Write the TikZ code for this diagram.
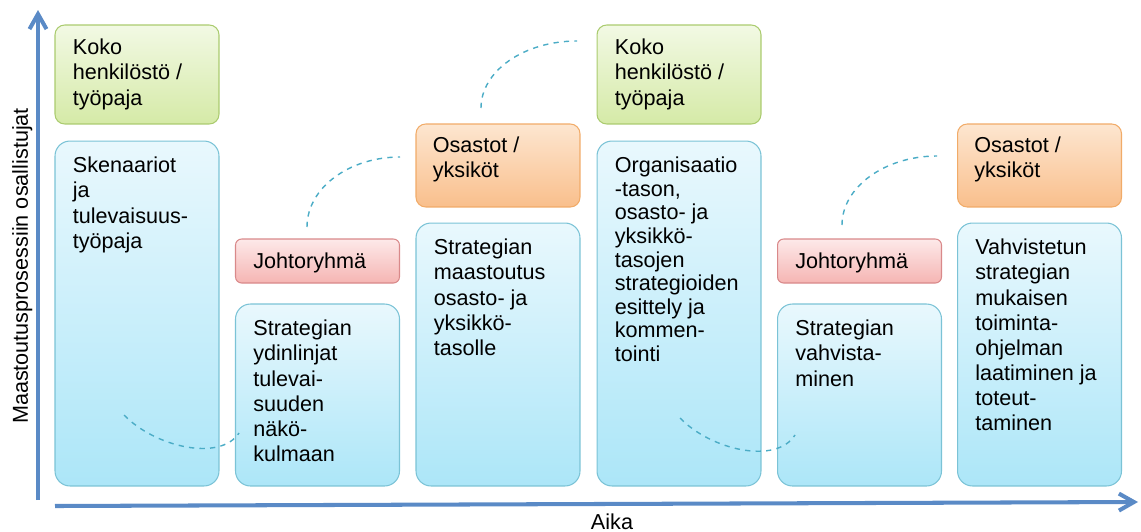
\documentclass[tikz,border=0pt]{standalone}
\usepackage{fontspec}
\setmainfont{Liberation Sans}
\usetikzlibrary{arrows.meta}
\definecolor{mstAxis}{HTML}{5A8AC6}
\definecolor{mstCurve}{HTML}{4BACC6}
\definecolor{mstGreenTop}{HTML}{F2F9E4}
\definecolor{mstGreenBot}{HTML}{D5EAA7}
\definecolor{mstGreenLine}{HTML}{AACB6E}
\definecolor{mstRedTop}{HTML}{FDE9E9}
\definecolor{mstRedBot}{HTML}{F5B5B3}
\definecolor{mstRedLine}{HTML}{D9898A}
\definecolor{mstOrangeTop}{HTML}{FDE6D0}
\definecolor{mstOrangeBot}{HTML}{F9BF8C}
\definecolor{mstOrangeLine}{HTML}{F1AB68}
\definecolor{mstBlueTop}{HTML}{E9F8FD}
\definecolor{mstBlueBot}{HTML}{ACE6F8}
\definecolor{mstBlueLine}{HTML}{7BC3D6}
\tikzset{
  mst axis/.style={draw=mstAxis, line width=2.3pt, -{Straight Barb[length=3mm,width=3.4mm]}},
  mst link/.style={draw=mstCurve, dashed, line width=0.8pt},
  mst box/.style={rectangle, inner sep=0pt, line width=0.6pt, minimum width=3.28cm},
  mst green/.style={mst box, draw=mstGreenLine, top color=mstGreenTop, bottom color=mstGreenBot, rounded corners=5.5pt, minimum height=1.98cm},
  mst red/.style={mst box, draw=mstRedLine, top color=mstRedTop, bottom color=mstRedBot, rounded corners=3.5pt, minimum height=0.88cm},
  mst orange/.style={mst box, draw=mstOrangeLine, top color=mstOrangeTop, bottom color=mstOrangeBot, rounded corners=5.5pt, minimum height=1.66cm},
  mst blue/.style={mst box, draw=mstBlueLine, top color=mstBlueTop, bottom color=mstBlueBot, rounded corners=8.5pt},
  mst text/.style={anchor=north west, inner sep=0pt, align=left, font=\fontsize{12.3}{14.3}\selectfont, text=black},
  mst label/.style={inner sep=0pt, font=\fontsize{12.3}{14.3}\selectfont, text=black},
}
\begin{document}
\begin{tikzpicture}[x=0.02cm,y=-0.02cm]
  \useasboundingbox (0,0) rectangle (1141,531);
  % axes
  \coordinate (y0) at (38,500);
  \coordinate (y1) at (38,10);
  \coordinate (x0) at (55,506);
  \coordinate (x1) at (1138,502);
  \draw[mst axis] (y0) -- (y1);
  \draw[mst axis] (x0) -- (x1);
  \node[mst label, rotate=90, anchor=base] (ylab) at (28,266) {Maastoutusprosessiin osallistujat};
  \node[mst label, anchor=base] (xlab) at (612,529) {Aika};
  % boxes
  \node[mst green] (kok1) at (137,74.5) {};
  \node[mst blue, minimum height=6.9cm] (ske) at (137,313.5) {};
  \node[mst red] (joh1) at (317.5,261) {};
  \node[mst blue, minimum height=3.64cm] (ydi) at (317.5,395) {};
  \node[mst orange] (osa1) at (498,165.5) {};
  \node[mst blue, minimum height=5.26cm] (maa) at (498,354.5) {};
  \node[mst green] (kok2) at (679,74.5) {};
  \node[mst blue, minimum height=6.9cm] (org) at (679,313.5) {};
  \node[mst red] (joh2) at (859.5,261) {};
  \node[mst blue, minimum height=3.64cm] (vah) at (859.5,395) {};
  \node[mst orange] (osa2) at (1039.5,165.5) {};
  \node[mst blue, minimum height=5.26cm] (toi) at (1039.5,354.5) {};
  % texts
  \node[mst text] (kok1 t) at ([shift={(18,12.4)}]kok1.north west) {\strut Koko\\henkilöstö /\\työpaja};
  \node[mst text] (ske t) at ([shift={(18,14.4)}]ske.north west) {\strut Skenaariot\\ja\\tulevaisuus-\\työpaja};
  \node[mst text] (joh1 t) at ([shift={(18,12.4)}]joh1.north west) {\strut Johtoryhmä};
  \node[mst text] (ydi t) at ([shift={(18,14.4)}]ydi.north west) {\strut Strategian\\ydinlinjat\\tulevai-\\suuden\\näkö-\\kulmaan};
  \node[mst text] (osa1 t) at ([shift={(17,11.4)}]osa1.north west) {\strut Osastot /\\yksiköt};
  \node[mst text] (maa t) at ([shift={(18,14.4)}]maa.north west) {\strut Strategian\\maastoutus\\osasto- ja\\yksikkö-\\tasolle};
  \node[mst text] (kok2 t) at ([shift={(18,12.4)}]kok2.north west) {\strut Koko\\henkilöstö /\\työpaja};
  \node[mst text, font=\fontsize{12.3}{13.4}\selectfont] (org t) at ([shift={(18,15.5)}]org.north west) {\strut Organisaatio\\-tason,\\osasto- ja\\yksikkö-\\tasojen\\strategioiden\\esittely ja\\kommen-\\tointi};
  \node[mst text] (joh2 t) at ([shift={(18,12.4)}]joh2.north west) {\strut Johtoryhmä};
  \node[mst text] (vah t) at ([shift={(18,14.4)}]vah.north west) {\strut Strategian\\vahvista-\\minen};
  \node[mst text] (osa2 t) at ([shift={(17,11.4)}]osa2.north west) {\strut Osastot /\\yksiköt};
  \node[mst text] (toi t) at ([shift={(18,14.4)}]toi.north west) {\strut Vahvistetun\\strategian\\mukaisen\\toiminta-\\ohjelman\\laatiminen ja\\toteut-\\taminen};
  % dashed links
  \coordinate (l1a) at (124,415);
  \coordinate (l1b) at (239,433);
  \coordinate (l2a) at (307,227);
  \coordinate (l2b) at (400,157);
  \coordinate (l3a) at (481,108);
  \coordinate (l3b) at (577,41);
  \coordinate (l4a) at (680,418);
  \coordinate (l4b) at (795,435);
  \coordinate (l5a) at (842,225);
  \coordinate (l5b) at (937,156);
  \draw[mst link] (l1a) .. controls (155,447) and (220,462) .. (l1b);
  \draw[mst link] (l2a) .. controls (307,188) and (349,157) .. (l2b);
  \draw[mst link] (l3a) .. controls (481,71) and (524,41) .. (l3b);
  \draw[mst link] (l4a) .. controls (711,450) and (776,465) .. (l4b);
  \draw[mst link] (l5a) .. controls (842,187) and (885,156) .. (l5b);
\end{tikzpicture}
\end{document}
